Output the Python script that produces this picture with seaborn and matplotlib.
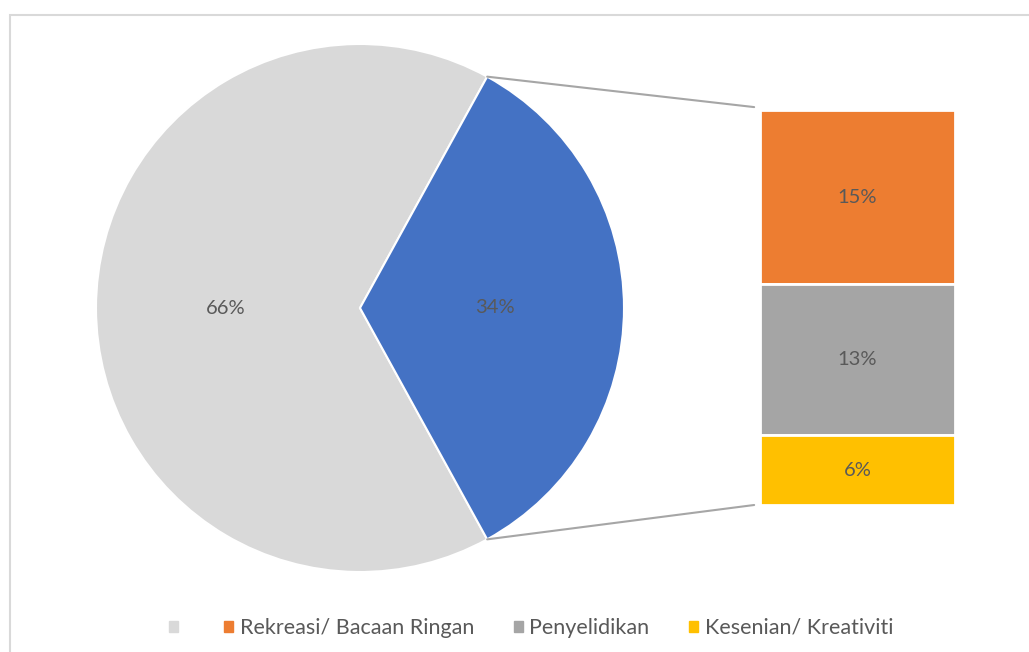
import numpy as np
import matplotlib.pyplot as plt
import seaborn as sns
from matplotlib.patches import ConnectionPatch, Patch, Rectangle

# Data
pie_values = [66, 34]
bar_labels = ["Rekreasi/ Bacaan Ringan", "Penyelidikan", "Kesenian/ Kreativiti"]
bar_values = [15, 13, 6]

pie_colors = ["#d9d9d9", "#4472c4"]
bar_colors = ["#ed7d31", "#a5a5a5", "#ffc000"]
text_color = "#595959"
line_color = "#a6a6a6"

sns.set_theme(style="white")
plt.rcParams["font.family"] = ["Lato", "DejaVu Sans"]

W, H = 1029, 652
fig = plt.figure(figsize=(W / 100, H / 100), dpi=100)
ax_pie = fig.add_axes([96 / W, 80 / H, 528 / W, 528 / H])
ax_bar = fig.add_axes([760 / W, 147 / H, 195 / W, 395 / H])

# pie, with the small slice centred on the right side
start = pie_values[1] / 100 * 180
ax_pie.pie(pie_values, colors=pie_colors, startangle=start, counterclock=True,
           autopct=lambda p: f"{p:.0f}%", pctdistance=0.51,
           wedgeprops=dict(edgecolor="white", linewidth=1.5),
           textprops=dict(color=text_color, fontsize=14.5))
ax_pie.set_xlim(-1, 1)
ax_pie.set_ylim(-1, 1)
ax_pie.set_axis_off()

# stacked bar that breaks down the small slice
bottoms = np.cumsum([0] + bar_values[::-1])[:-1][::-1]
for val, bot, col in zip(bar_values, bottoms, bar_colors):
    bars = ax_bar.bar(0, val, bottom=bot, width=1, color=col,
                      edgecolor="white", linewidth=2)
    ax_bar.bar_label(bars, labels=[f"{val}%"], label_type="center",
                     color=text_color, fontsize=14.5)
ax_bar.set_xlim(-0.5, 0.5)
ax_bar.set_ylim(0, sum(bar_values))
ax_bar.set_axis_off()

# connector lines
theta = np.deg2rad(start)
for sign, yb in [(1, sum(bar_values) + 0.25), (-1, 0)]:
    con = ConnectionPatch(xyA=(np.cos(theta), sign * np.sin(theta)), coordsA=ax_pie.transData,
                          xyB=(-0.53, yb), coordsB=ax_bar.transData,
                          color=line_color, lw=1.5)
    fig.add_artist(con)

# chart frame (only left and top edges fall inside the picture)
fig.add_artist(Rectangle((9.5 / W, -0.1), 1.2, 1 - 14.5 / H + 0.1,
                         transform=fig.transFigure, fill=False,
                         edgecolor="#d9d9d9", lw=1.5))

handles = [Patch(color=c) for c in [pie_colors[0]] + bar_colors]
labels = [""] + bar_labels
fig.legend(handles, labels, loc="center", bbox_to_anchor=(531 / W, 1 - 628 / H),
           ncol=4, frameon=False, handlelength=0.42, handleheight=0.42,
           handletextpad=0.3, columnspacing=1.85, fontsize=15.5, labelcolor=text_color)

fig.savefig("out.png", dpi=100)
